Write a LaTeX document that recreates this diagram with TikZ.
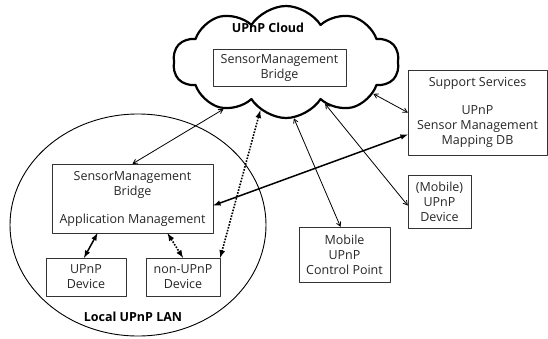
\documentclass[tikz,border=0pt]{standalone}
\usepackage{fontspec}
\setmainfont{Open Sans}
\usetikzlibrary{arrows}
\usetikzlibrary{shapes.symbols,shapes.geometric}

\begin{document}
\begin{tikzpicture}[line cap=round,line join=round,x=1pt,y=-1pt,
  font=\fontsize{12.5}{15}\selectfont,
  box/.style={draw=black!80,inner sep=0pt,align=center,text=black!85},
  title/.style={font=\fontsize{12.5}{15}\selectfont\bfseries},
  thin link/.style={<->,>=angle 60,line width=0.8pt},
  thick link/.style={<->,>=latex,line width=1.5pt},
  dot link/.style={<->,>=latex,line width=1.6pt,line cap=butt,dash pattern=on 1.6pt off 1.4pt}]
\useasboundingbox (0,0) rectangle (548,338);

%wolk
\node[cloud,draw,line width=2.2pt,cloud puffs=10,cloud puff arc=115,aspect=2,
  minimum width=226pt,minimum height=112pt] (cloud) at (286,62) {};
\node[title] (cloudlabel) at (268,28) {UPnP Cloud};
\node[box,minimum width=133pt,minimum height=37pt] (cloudbridge) at (279.5,67.5)
  {SensorManagement\\Bridge};

%lokaal netwerk
\node[ellipse,draw,line width=0.9pt,minimum width=256pt,minimum height=222pt] (lan) at (138,225) {};
\node[title] (lanlabel) at (133,317) {Local UPnP LAN};
\node[box,minimum width=161pt,minimum height=69pt] (lanbox) at (132.5,198.5)
  {SensorManagement\\Bridge\\[13pt]Application Management};
\node[box,minimum width=80pt,minimum height=38pt] (upnpdev) at (86,277) {UPnP\\Device};
\node[box,minimum width=74pt,minimum height=38pt] (nonupnp) at (183,277) {non-UPnP\\Device};

%rechts
\node[box,minimum width=139pt,minimum height=85pt] (support) at (477.5,112.5)
  {Support Services\\[13pt]UPnP\\Sensor Management\\Mapping DB};
\node[box,minimum width=63pt,minimum height=53pt] (mobdev) at (439.5,201.5)
  {(Mobile)\\UPnP\\Device};
\node[box,minimum width=91pt,minimum height=55pt] (ctrl) at (344.5,254.5)
  {Mobile\\UPnP\\Control Point};

%verbindingen
\draw[thin link] (cloud.217) -- (lanbox.north);
\draw[dot link] (cloud.242) -- (nonupnp.north east);
\draw[thick link] ([yshift=-22pt]support.west) -- ([yshift=-7pt]lanbox.east);
\draw[thin link] (cloud.340) -- (support.west);
\draw[thin link] (cloud.313) -- ([yshift=-4pt]mobdev.west);
\draw[thin link] (cloud.278) -- ([xshift=-4pt]ctrl.north);
\draw[thick link] ([xshift=-35pt]lanbox.south) -- ([xshift=-2pt]upnpdev.north);
\draw[dot link] ([xshift=35pt]lanbox.south) -- (nonupnp.north);
\end{tikzpicture}
\end{document}
